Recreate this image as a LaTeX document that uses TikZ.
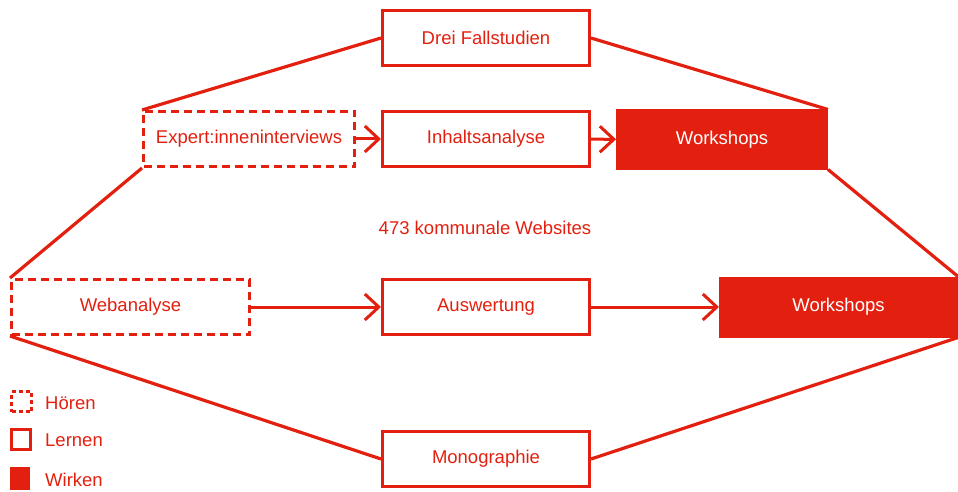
\documentclass[tikz,border=0pt]{standalone}
\usepackage{fontspec}
\setmainfont{Liberation Sans}
\usetikzlibrary{positioning, arrows.meta}
\definecolor{rot}{HTML}{E3200F}

\tikzset{
  box/.style={minimum width=207pt, minimum height=55pt, inner sep=0pt, line width=3pt, rot, draw=rot, text=rot},
  hoeren/.style={box, dash pattern=on 8pt off 5pt},
  lernen/.style={box},
  wirken/.style={box, fill=rot, text=white},
  rahmen/.style={line width=3.2pt, rot},
  pfeil/.style={line width=3pt, rot, -{Straight Barb[length=14pt, width=26pt, line width=3pt]}},
  legtext/.style={anchor=west, text=rot, inner sep=0pt}
}

\begin{document}
\begin{tikzpicture}[x=1pt, y=-1pt, font=\fontsize{18.5}{22}\selectfont]
        \useasboundingbox (0,0) rectangle (958,492);

        % Knoten
        \node[lernen] (drei) at (486, 38) {Drei Fallstudien};
        \node[hoeren, minimum width=211pt] (expert) at (249, 139) {Expert:inneninterviews};
        \node[lernen] (inhalt) at (486, 139) {Inhaltsanalyse};
        \node[wirken, minimum width=209pt, minimum height=57pt] (wsoben) at (722, 139.5) {Workshops};
        \node[text=rot] (websites) at (485, 228) {473 kommunale Websites};
        \node[hoeren, minimum width=238pt] (web) at (130.5, 307) {Webanalyse};
        \node[lernen] (auswert) at (486, 307) {Auswertung};
        \node[wirken, minimum width=236pt, minimum height=58pt] (wsunten) at (838.5, 307) {Workshops};
        \node[lernen] (mono) at (486, 459) {Monographie};

        % Rahmen
        \draw[rahmen] (expert.north west) -- (drei.west);
        \draw[rahmen] (drei.east) -- (wsoben.north east);
        \draw[rahmen] (wsoben.south east) -- (wsunten.north east);
        \draw[rahmen] (expert.south west) -- (web.north west);
        \draw[rahmen] (web.south west) -- (mono.west);
        \draw[rahmen] (mono.east) -- (wsunten.south east);

        % Pfeile
        \draw[pfeil] (expert) -- (inhalt);
        \draw[pfeil] (inhalt) -- (wsoben);
        \draw[pfeil] (web) -- (auswert);
        \draw[pfeil] (auswert) -- (wsunten);

        % Legende
        \node[hoeren, minimum width=20pt, minimum height=20pt, dash pattern=on 4pt off 3pt] (lh) at (21.5, 401.5) {};
        \node[legtext] (th) at (45, 403) {Hören};
        \node[lernen, minimum width=19pt, minimum height=20pt] (ll) at (21, 439.5) {};
        \node[legtext] (tl) at (45, 440) {Lernen};
        \node[wirken, minimum width=17pt, minimum height=20pt] (lw) at (20, 478.5) {};
        \node[legtext] (tw) at (45, 480) {Wirken};
\end{tikzpicture}
\end{document}
